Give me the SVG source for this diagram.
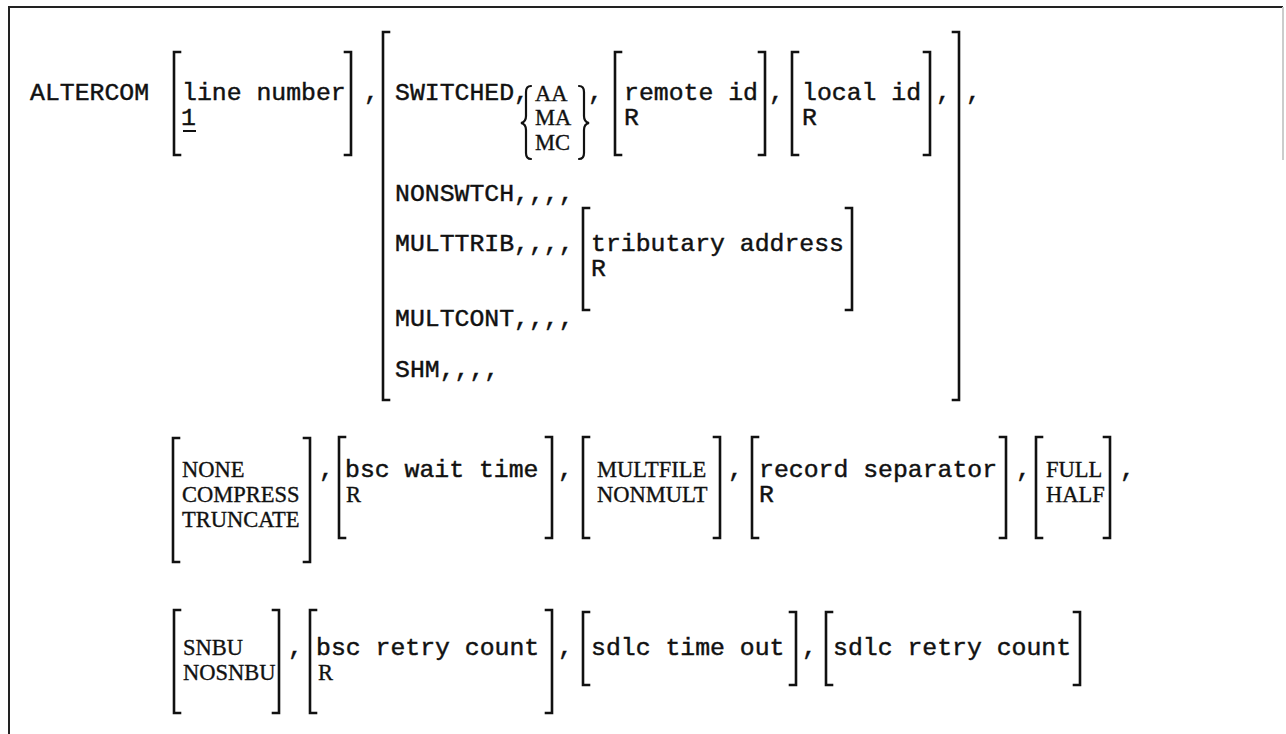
<svg xmlns="http://www.w3.org/2000/svg" width="1286" height="734" viewBox="0 0 1286 734">
<style>
.m{font-family:"Liberation Mono","Courier New",monospace;font-size:24.8px;fill:#111;stroke:#111;stroke-width:0.45}
.s{font-family:"Liberation Serif","Times New Roman",serif;font-size:22.5px;fill:#111;stroke:#111;stroke-width:0.35}
.b{fill:none;stroke:#111;stroke-width:2.6;stroke-linecap:square}
.br{fill:none;stroke:#111;stroke-width:2.2;stroke-linecap:round}
.frame{fill:none;stroke:#222;stroke-width:2}
</style>
<rect width="1286" height="734" fill="#fff"/>
<g id="frame">
<path class="frame" d="M9 734 V7 H1283"/>
<line x1="1283" y1="7" x2="1283" y2="160" stroke="#ccc" stroke-width="2"/>
</g>
<g id="row1">
<g id="cmd"><text class="m" x="30" y="100">ALTERCOM</text></g>
<g id="lineno">
<path class="b" d="M180 52 H174 V155 H180"/>
<text class="m" x="182" y="100">line number</text>
<text class="m" x="181" y="125">1</text>
<line x1="183" y1="131" x2="196" y2="131" stroke="#111" stroke-width="2"/>
<path class="b" d="M345 52 H351 V155 H345"/>
</g>
<text class="m" x="364" y="100">,</text>
<g id="linetype">
<path class="b" d="M389 32 H383 V400 H389"/>
<path class="b" d="M953 32 H959 V400 H953"/>
<text class="m" x="395" y="100">SWITCHED,</text>
<g id="answer">
<path class="br" d="M531 86 Q526 86 526 92 V116 Q526 122 521 123 Q526 124 526 130 V153 Q526 159 531 159"/>
<text class="s" x="535" y="101">AA</text>
<text class="s" x="535" y="125">MA</text>
<text class="s" x="535" y="150">MC</text>
<path class="br" d="M579 86 Q584 86 584 92 V116 Q584 122 589 123 Q584 124 584 130 V153 Q584 159 579 159"/>
</g>
<text class="m" x="588" y="100">,</text>
<g id="remoteid">
<path class="b" d="M621 52 H615 V155 H621"/>
<text class="m" x="624" y="100">remote id</text>
<text class="m" x="624" y="125">R</text>
<path class="b" d="M759 52 H765 V155 H759"/>
</g>
<text class="m" x="769" y="100">,</text>
<g id="localid">
<path class="b" d="M798 52 H792 V155 H798"/>
<text class="m" x="802" y="100">local id</text>
<text class="m" x="802" y="125">R</text>
<path class="b" d="M924 52 H930 V155 H924"/>
</g>
<text class="m" x="936" y="100">,</text>
<text class="m" x="395" y="201">NONSWTCH,,,,</text>
<text class="m" x="395" y="251">MULTTRIB,,,,</text>
<g id="tributary">
<path class="b" d="M589 208 H583 V310 H589"/>
<text class="m" x="591" y="251">tributary address</text>
<text class="m" x="591" y="276">R</text>
<path class="b" d="M846 208 H852 V310 H846"/>
</g>
<text class="m" x="395" y="326">MULTCONT,,,,</text>
<text class="m" x="395" y="377">SHM,,,,</text>
</g>
<text class="m" x="966" y="100">,</text>
</g>
<g id="row2">
<g id="compress">
<path class="b" d="M179 438 H173 V562 H179"/>
<text class="s" x="182" y="477">NONE</text>
<text class="s" x="182" y="502">COMPRESS</text>
<text class="s" x="182" y="527">TRUNCATE</text>
<path class="b" d="M304 438 H310 V562 H304"/>
</g>
<text class="m" x="319" y="477">,</text>
<g id="bscwait">
<path class="b" d="M345 437 H339 V538 H345"/>
<text class="m" x="345" y="477">bsc wait time</text>
<text class="s" x="346" y="502">R</text>
<path class="b" d="M546 437 H552 V538 H546"/>
</g>
<text class="m" x="558" y="477">,</text>
<g id="multfile">
<path class="b" d="M589 437 H583 V538 H589"/>
<text class="s" x="597" y="477">MULTFILE</text>
<text class="s" x="597" y="502">NONMULT</text>
<path class="b" d="M714 437 H720 V538 H714"/>
</g>
<text class="m" x="728" y="477">,</text>
<g id="recsep">
<path class="b" d="M758 437 H752 V538 H758"/>
<text class="m" x="759" y="477">record separator</text>
<text class="m" x="759" y="502">R</text>
<path class="b" d="M1000 437 H1006 V538 H1000"/>
</g>
<text class="m" x="1016" y="477">,</text>
<g id="duplex">
<path class="b" d="M1042 437 H1036 V538 H1042"/>
<text class="s" x="1046" y="477">FULL</text>
<text class="s" x="1046" y="502">HALF</text>
<path class="b" d="M1104 437 H1110 V538 H1104"/>
</g>
<text class="m" x="1120" y="477">,</text>
</g>
<g id="row3">
<g id="snbu">
<path class="b" d="M180 610 H174 V713 H180"/>
<text class="s" x="183" y="655">SNBU</text>
<text class="s" x="183" y="680">NOSNBU</text>
<path class="b" d="M273 610 H279 V713 H273"/>
</g>
<text class="m" x="288" y="655">,</text>
<g id="bscretry">
<path class="b" d="M316 610 H310 V713 H316"/>
<text class="m" x="316" y="655">bsc retry count</text>
<text class="s" x="318" y="680">R</text>
<path class="b" d="M546 610 H552 V713 H546"/>
</g>
<text class="m" x="558" y="655">,</text>
<g id="sdlctime">
<path class="b" d="M589 612 H583 V685 H589"/>
<text class="m" x="591" y="655">sdlc time out</text>
<path class="b" d="M790 612 H796 V685 H790"/>
</g>
<text class="m" x="802" y="655">,</text>
<g id="sdlcretry">
<path class="b" d="M832 612 H826 V685 H832"/>
<text class="m" x="833" y="655">sdlc retry count</text>
<path class="b" d="M1074 612 H1080 V685 H1074"/>
</g>
</g>
</svg>
